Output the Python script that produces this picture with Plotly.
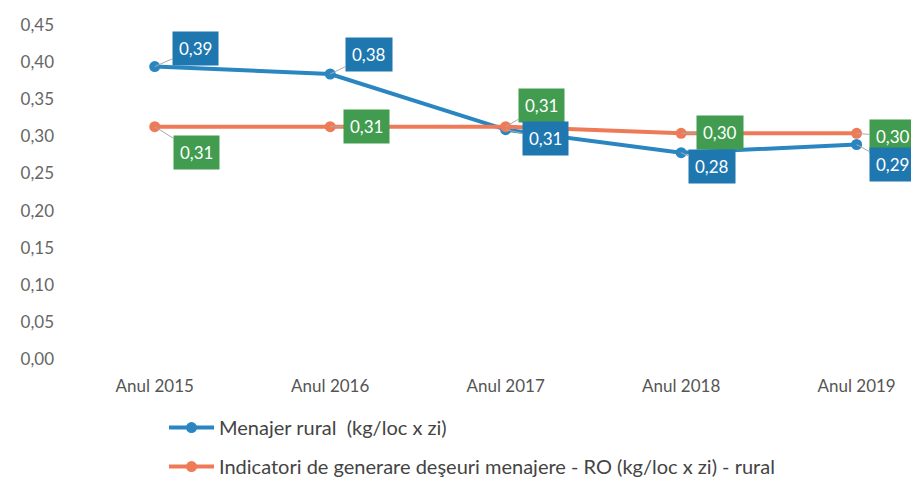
import plotly.graph_objects as go

categories = ["Anul 2015", "Anul 2016", "Anul 2017", "Anul 2018", "Anul 2019"]
menajer_rural = [0.394, 0.384, 0.309, 0.278, 0.289]
indicatori_ro = [0.313, 0.313, 0.313, 0.304, 0.304]
series_names = ["Menajer rural  (kg/loc x zi)",
                "Indicatori de generare deşeuri menajere - RO (kg/loc x zi) - rural"]
y_ticks = [0.00, 0.05, 0.10, 0.15, 0.20, 0.25, 0.30, 0.35, 0.40, 0.45]

# label offsets (pixels) of data-label boxes relative to points
blue_off = [(41, -18), (39, -19), (40, 9), (31, 14), (36, 20)]
green_off = [(42, 26), (36, 0), (36, -21), (39, -1), (36, 3)]

BLUE_LINE = "#2a86c0"
BLUE_BOX = "#1f77b0"
ORANGE = "#ef7a58"
GREEN_BOX = "#419c4f"
FONT = "Lato"

fig = go.Figure()
fig.add_trace(go.Scatter(x=categories, y=menajer_rural, name=series_names[0],
                         mode="lines+markers", legendgroup="a",
                         line=dict(color=BLUE_LINE, width=4),
                         marker=dict(size=11, color=BLUE_LINE)))
fig.add_trace(go.Scatter(x=categories, y=indicatori_ro, name=series_names[1],
                         mode="lines+markers", legendgroup="b",
                         line=dict(color=ORANGE, width=4),
                         marker=dict(size=11, color=ORANGE)))

def fmt(v):
    return f"{v:.2f}".replace(".", ",")

for vals, offs, col in [(indicatori_ro, green_off, GREEN_BOX), (menajer_rural, blue_off, BLUE_BOX)]:
    for c, v, (ax, ay) in zip(categories, vals, offs):
        fig.add_annotation(x=c, y=v, text=fmt(v), showarrow=True, arrowhead=0,
                           arrowwidth=1, arrowcolor="#aaaaaa", ax=ax, ay=ay,
                           standoff=0, bgcolor=col, borderpad=6,
                           font=dict(family=FONT, size=17, color="white"))

fig.update_layout(
    width=911, height=500,
    margin=dict(l=59, r=1, t=17, b=149),
    paper_bgcolor="white", plot_bgcolor="white",
    font=dict(family=FONT, color="#555555"),
    showlegend=True,
    legend=dict(orientation="v", x=0.114, y=-0.147, xanchor="left", yanchor="top",
                traceorder="grouped", tracegroupgap=10, itemwidth=45,
                font=dict(family=FONT, size=20, color="#444444"),
                bgcolor="rgba(0,0,0,0)"),
    xaxis=dict(type="category", range=[-0.5, 4.35], showgrid=False, zeroline=False,
               showline=False, tickfont=dict(family=FONT, size=17, color="#555555"),
               ticks="", ticklabelstandoff=15),
    yaxis=dict(range=[0, 0.45], tickvals=y_ticks,
               ticktext=[fmt(t) for t in y_ticks], showgrid=False, zeroline=False,
               showline=False, tickfont=dict(family=FONT, size=17, color="#666666"),
               ticklabelstandoff=12),
)

fig.write_html("out.html")
